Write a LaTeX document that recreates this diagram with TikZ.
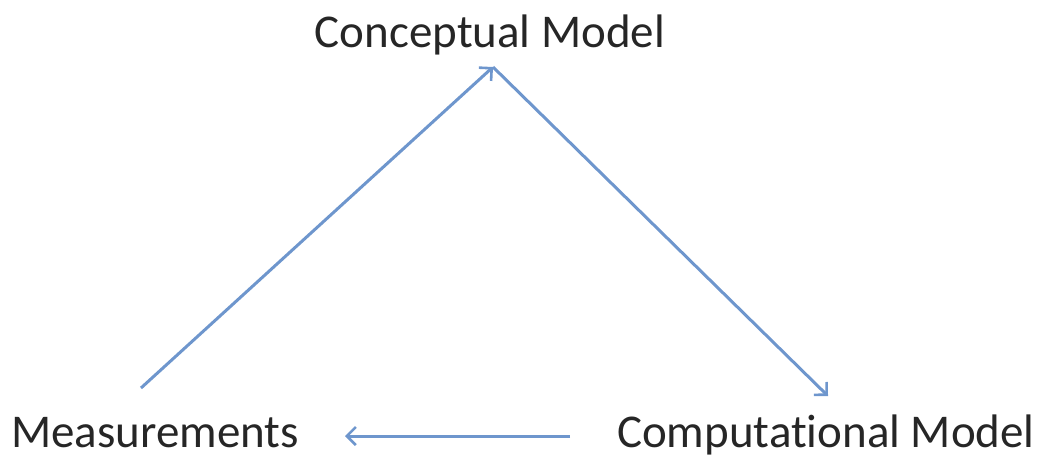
\documentclass[tikz,border=0pt]{standalone}
\usepackage{fontspec}
\setmainfont{Carlito}[Ligatures=NoCommon]
\usetikzlibrary{arrows.meta}
\definecolor{arrowblue}{RGB}{110,150,205}
\tikzset{
  lbl/.style={inner sep=0pt, anchor=base, font=\fontsize{47}{52}\selectfont, text=black!85},
  flow/.style={draw=arrowblue, line width=3pt, -{Straight Barb[length=9pt,width=18pt,line width=2.6pt]}}
}
\begin{document}
\begin{tikzpicture}[x=1pt,y=-1pt]
\useasboundingbox (0,0) rectangle (1040,459);
\node[lbl] (concept) at (490,47) {Conceptual Model};
\node[lbl] (meas) at (155,447) {Measurements};
\node[lbl] (comp) at (826,447) {Computational Model};
\coordinate (mStart) at (141,388);
\coordinate (cTop) at (493,67);
\coordinate (compEnd) at (828,396);
\coordinate (compStart) at (570,436);
\coordinate (measEnd) at (345,436);
\draw[flow] (mStart) -- (cTop);
\draw[flow] (cTop) -- (compEnd);
\draw[flow] (compStart) -- (measEnd);
\end{tikzpicture}
\end{document}
